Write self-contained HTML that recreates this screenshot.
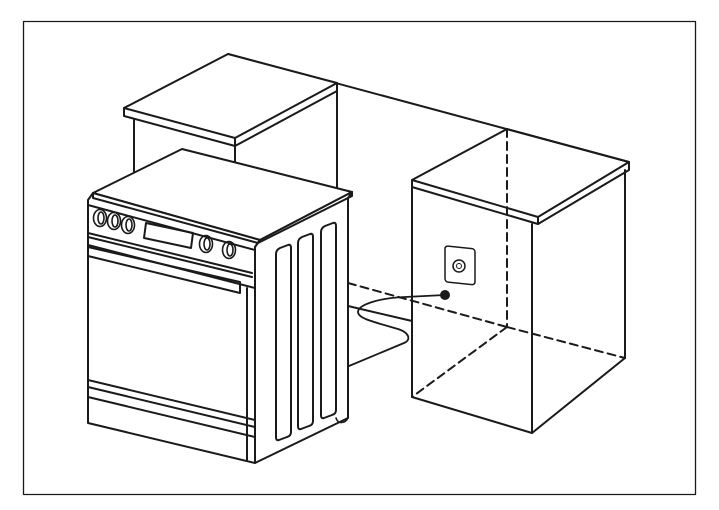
<!DOCTYPE html>
<html><head><style>html,body{margin:0;padding:0;background:#fff}svg{display:block}</style></head>
<body>
<svg width="719" height="510" viewBox="0 0 719 510" xmlns="http://www.w3.org/2000/svg" fill="none" stroke="#1a1a1a" stroke-width="2" stroke-linejoin="round" stroke-linecap="round">
<rect x="23.5" y="21.5" width="672" height="473" stroke-width="1.3"/>
<!-- back line -->
<line x1="228" y1="54" x2="629" y2="162"/>
<!-- back cabinet -->
<polygon points="124,108 228,54 337,83 235,138" fill="#fff"/>
<polyline points="124,108 124,116 235,146 337,91 337,83"/>
<line x1="235" y1="138" x2="235" y2="146"/>
<line x1="134" y1="119" x2="134" y2="185"/>
<line x1="235" y1="146" x2="235" y2="165"/>
<line x1="337" y1="91" x2="337" y2="190"/>
<!-- floor line -->
<line x1="348" y1="306" x2="412" y2="321"/>
<!-- dashed -->
<g stroke-dasharray="8,5">
<line x1="348" y1="283" x2="507" y2="327"/>
<line x1="507" y1="327" x2="625" y2="358"/>
<line x1="507" y1="129" x2="507" y2="327"/>
<line x1="507" y1="327" x2="412" y2="397"/>
</g>
<!-- right cabinet -->
<polygon points="412,180 507,129 629,162 538,217"/>
<polyline points="412,180 412,187 538,224 629,170 629,162"/>
<line x1="538" y1="217" x2="538" y2="224"/>
<line x1="412" y1="187" x2="412" y2="397"/>
<line x1="532" y1="224" x2="532" y2="433"/>
<line x1="625" y1="170" x2="625" y2="358"/>
<polyline points="412,397 532,433 625,358"/>
<!-- outlet -->
<rect x="445" y="247" width="30" height="36" rx="3" transform="skewY(6) translate(0,-48)" stroke-width="1.5"/>
<circle cx="459" cy="266" r="6" stroke-width="1.5"/>
<circle cx="459" cy="266" r="2.5" stroke-width="1"/>
<circle cx="445" cy="295" r="4" fill="#1a1a1a"/>
<!-- cord -->
<path d="M445,295 L405,297 C378,298 358,305 358,312 C358,318 370,321 398,329 C410,333 411,340 404,343 L349,366" stroke-width="1.8"/>
<!-- stove -->
<polygon points="93,193 182,149 352,192 260,240" fill="#fff"/>
<polygon points="88,200 93,193 260,240 255,247 255,463 88,423" fill="#fff"/>
<polygon points="255,247 260,240 352,192 348,198 348,418 255,463" fill="#fff"/>
<polyline points="93,193 93,198 258,243 352,196 352,192"/>
<line x1="88" y1="205" x2="255" y2="250"/>
<line x1="88" y1="233" x2="252" y2="273"/>
<line x1="88" y1="237" x2="252" y2="277"/>
<g stroke-width="1.6">
<ellipse cx="100" cy="218" rx="6.5" ry="8.5"/><ellipse cx="101" cy="218" rx="3" ry="6"/>
<ellipse cx="114" cy="221" rx="6.5" ry="8.5"/><ellipse cx="115" cy="221" rx="3" ry="6"/>
<ellipse cx="128" cy="225" rx="6.5" ry="8.5"/><ellipse cx="129" cy="225" rx="3" ry="6"/>
<ellipse cx="206" cy="244" rx="6.5" ry="8.5"/><ellipse cx="207" cy="244" rx="3" ry="6"/>
<ellipse cx="229" cy="250" rx="6.5" ry="8.5"/><ellipse cx="230" cy="250" rx="3" ry="6"/>
</g>
<polygon points="146,223 193,233 191,248 144,238"/>
<polyline points="88,247 240,282 240,293 88,256"/>
<line x1="88" y1="245" x2="255" y2="288"/>
<line x1="88" y1="380" x2="255" y2="420"/>
<line x1="88" y1="387" x2="255" y2="427"/>
<line x1="88" y1="397" x2="255" y2="437"/>
<line x1="247" y1="288" x2="247" y2="460"/>
<!-- side slots -->
<path d="M276,254 Q276,250 280,248 L288,245 Q291,244 291,248 L291,432 Q291,436 287,437 L279,440 Q276,441 276,437 Z"/>
<path d="M298,243 Q298,239 302,237 L310,234 Q313,233 313,237 L313,421 Q313,425 309,426 L301,429 Q298,430 298,426 Z"/>
<path d="M321,232 Q321,228 325,226 L333,223 Q336,222 336,226 L336,410 Q336,414 332,415 L324,418 Q321,419 321,415 Z"/>
<path d="M336,418 Q338,424 344,422 Q349,420 348,412" stroke-width="1.6"/>
</svg>
</body></html>
